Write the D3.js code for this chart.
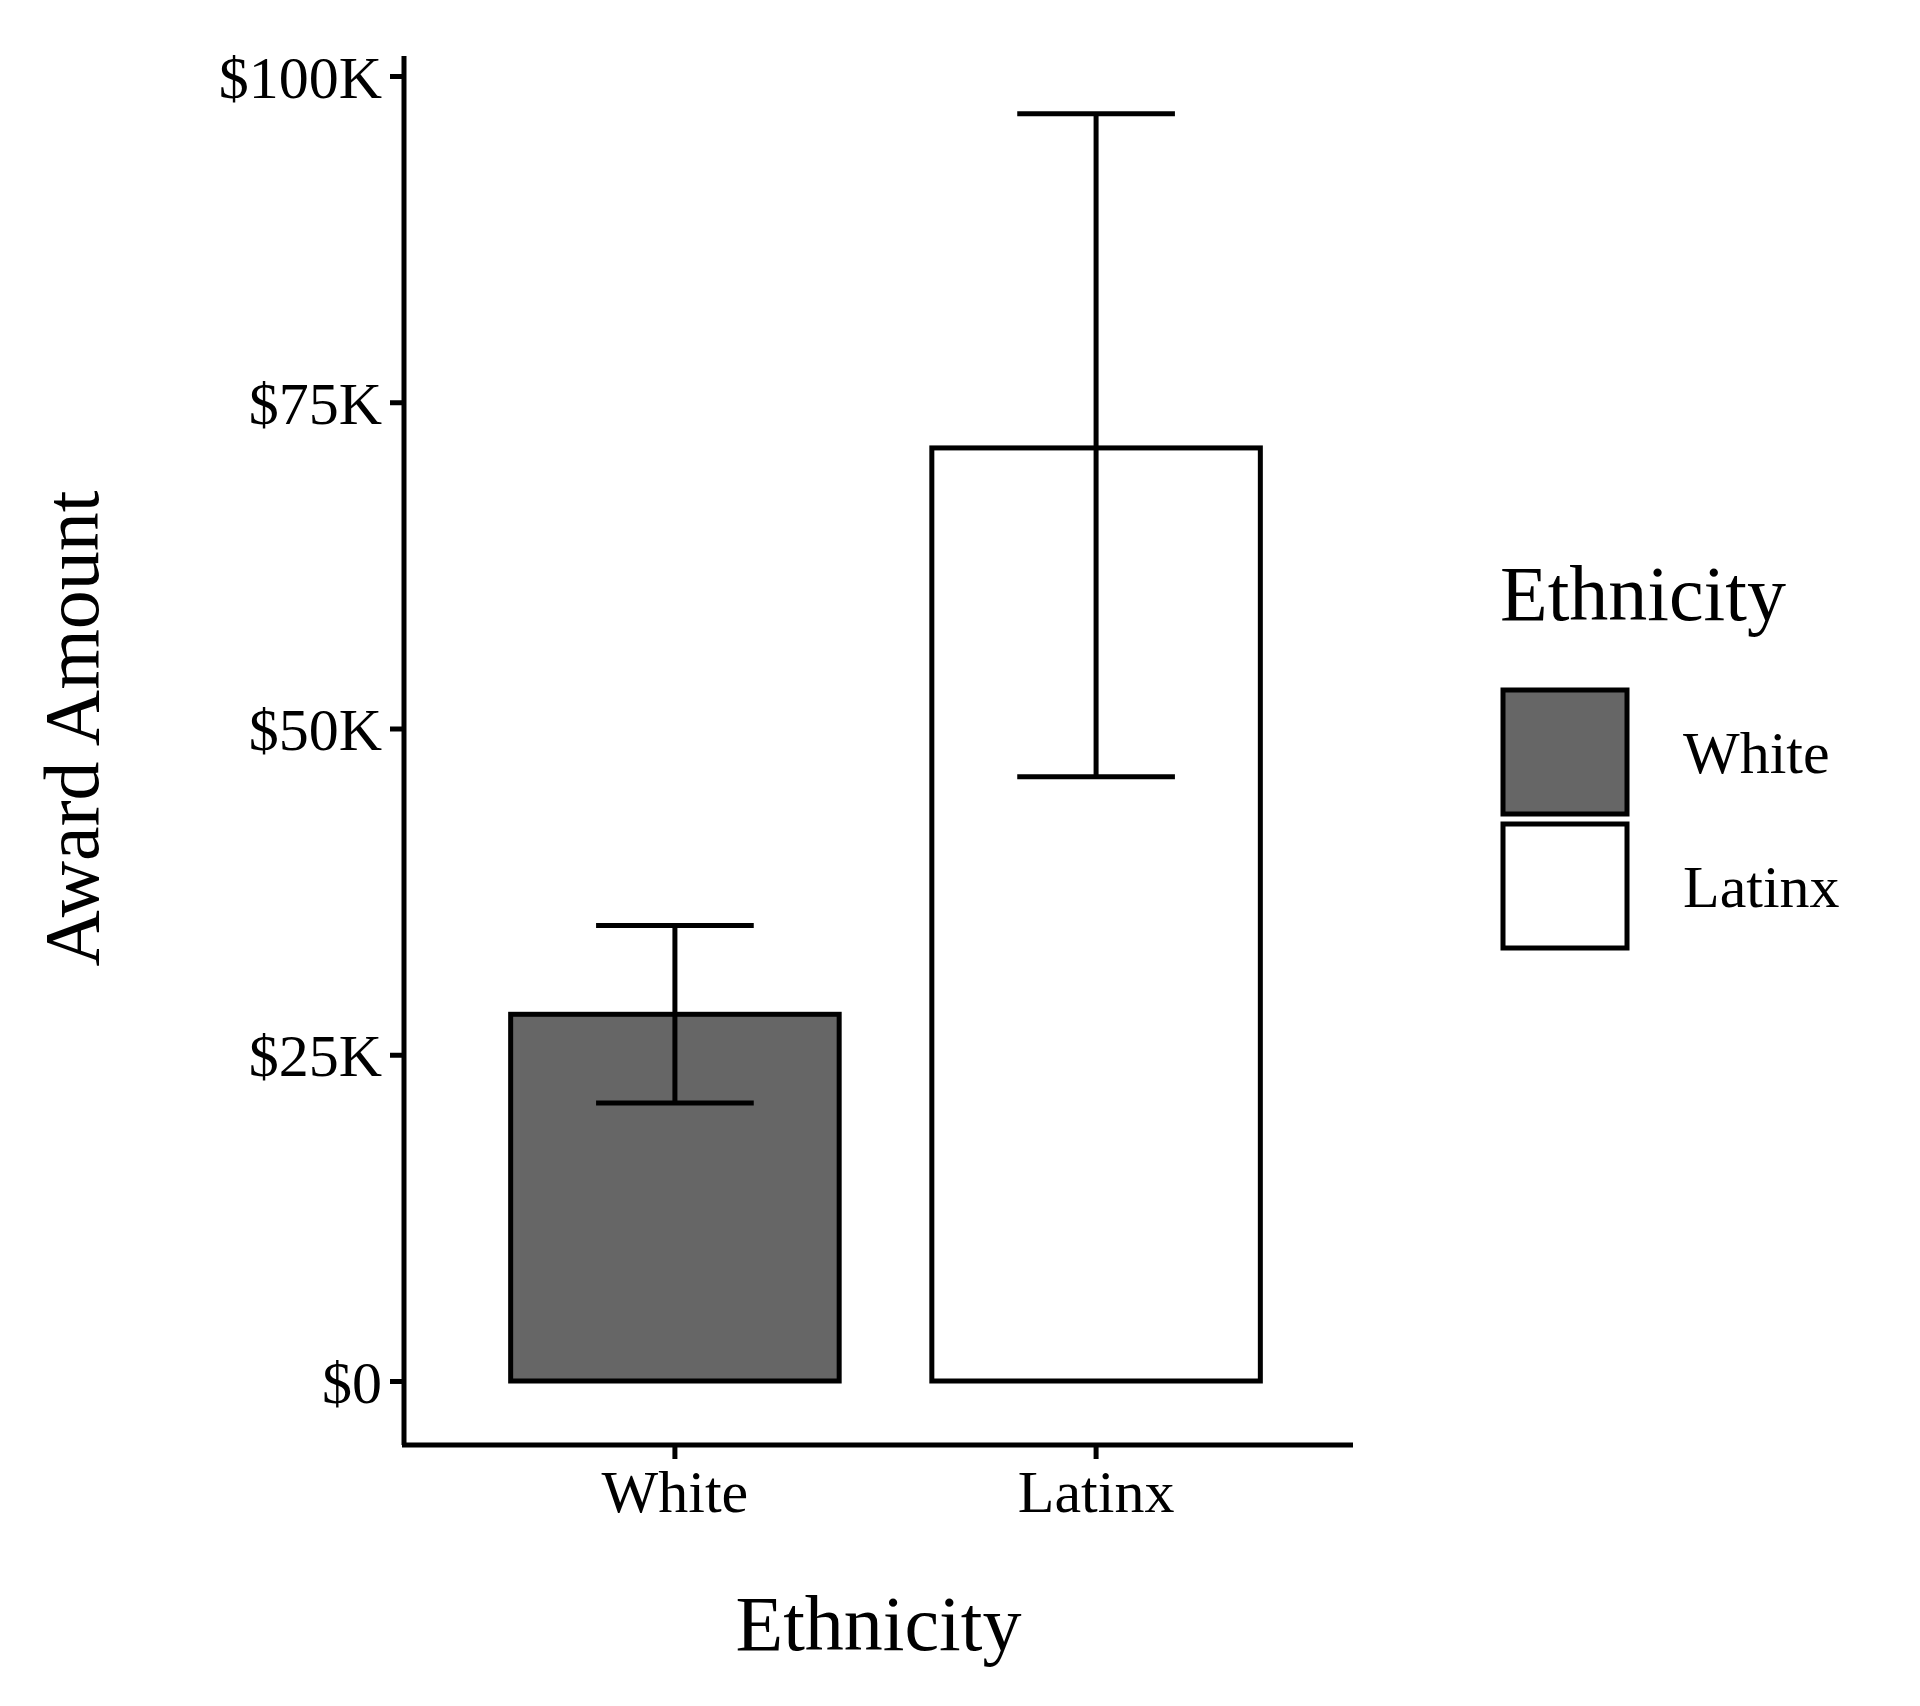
<!DOCTYPE html>
<html><head><meta charset="utf-8">
<script src="https://cdn.jsdelivr.net/npm/d3@7"></script>
<style>body{margin:0;background:#fff}text{font-family:"Liberation Serif",serif;fill:#000}</style>
</head><body><svg id="c" width="1920" height="1706"></svg>
<script>
const categories = ["White","Latinx"];
const means = [28.1, 71.5];
const lower = [21.3, 46.3];
const upper = [34.9, 97.1];
const fills = ["#666666","#ffffff"];
const yTicks = [0,25,50,75,100];
const yTickLabels = ["$0","$25K","$50K","$75K","$100K"];

const svg = d3.select("#c");
const L=404, R=1353, T=76, B=1381, axisY=1445;
const x = d3.scaleBand().domain(categories).range([L+14,R]).paddingInner(0.22).paddingOuter(0.22);
const y = d3.scaleLinear().domain([0,100]).range([B,T]);
const sw=5;

// bars
svg.selectAll("rect.bar").data(categories).enter().append("rect")
 .attr("x",d=>x(d)).attr("width",x.bandwidth())
 .attr("y",(d,i)=>y(means[i])).attr("height",(d,i)=>y(0)-y(means[i]))
 .attr("fill",(d,i)=>fills[i]).attr("stroke","#000").attr("stroke-width",sw);
// error bars
const cap = x.bandwidth()*0.48;
categories.forEach((d,i)=>{
 const cx=x(d)+x.bandwidth()/2;
 const g=svg.append("g").attr("stroke","#000").attr("stroke-width",sw);
 g.append("line").attr("x1",cx).attr("x2",cx).attr("y1",y(lower[i])).attr("y2",y(upper[i]));
 [lower[i],upper[i]].forEach(v=>g.append("line").attr("x1",cx-cap/2).attr("x2",cx+cap/2).attr("y1",y(v)).attr("y2",y(v)));
});
// y axis
const ya=svg.append("g").attr("transform",`translate(${L},0)`)
 .call(d3.axisLeft(y).tickValues(yTicks).tickFormat((d,i)=>yTickLabels[i]).tickSize(14).tickPadding(8));
ya.select(".domain").remove();
ya.append("line").attr("x1",0).attr("x2",0).attr("y1",56).attr("y2",axisY).attr("stroke","#000").attr("stroke-width",sw);
ya.selectAll(".tick line").attr("stroke-width",sw);
ya.selectAll(".tick text").style("font-size","60px").attr("dy","0.35em");
// x axis
const xa=svg.append("g").attr("transform",`translate(0,${axisY})`)
 .call(d3.axisBottom(x).tickSize(14).tickPadding(10));
xa.select(".domain").remove();
xa.append("line").attr("x1",L-2).attr("x2",R).attr("stroke","#000").attr("stroke-width",sw);
xa.selectAll(".tick line").attr("stroke-width",sw);
xa.selectAll(".tick text").style("font-size","60px");
// titles
svg.append("text").attr("x",(L+R)/2).attr("y",1650).attr("text-anchor","middle").style("font-size","78px").text("Ethnicity");
svg.append("text").attr("transform",`translate(98,${(T+B)/2}) rotate(-90)`).attr("text-anchor","middle").style("font-size","78px").text("Award Amount");
// legend
svg.append("text").attr("x",1500).attr("y",620).style("font-size","78px").text("Ethnicity");
categories.forEach((d,i)=>{
 svg.append("rect").attr("x",1503).attr("y",690+i*134).attr("width",124).attr("height",124)
  .attr("fill",fills[i]).attr("stroke","#000").attr("stroke-width",sw);
 svg.append("text").attr("x",1683).attr("y",752+i*134).attr("dy","0.35em").style("font-size","60px").text(d);
});
</script></body></html>
